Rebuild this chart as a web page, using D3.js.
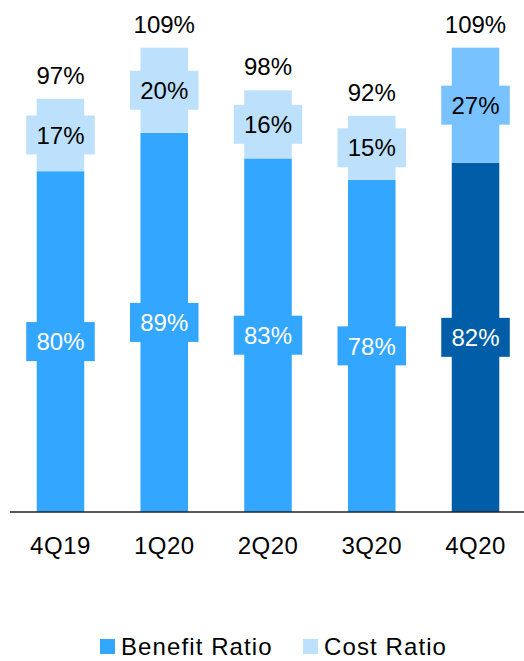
<!DOCTYPE html>
<html>
<head>
<meta charset="utf-8">
<script src="https://cdn.jsdelivr.net/npm/d3@7/dist/d3.min.js"></script>
<style>
  html, body { margin: 0; padding: 0; background: #fff; }
  svg { display: block; font-family: "Liberation Sans", Arial, sans-serif; }
</style>
</head>
<body>
<svg id="chart" width="524" height="661"></svg>
<script>
// Quarterly ratios (%)
const categories = ["4Q19", "1Q20", "2Q20", "3Q20", "4Q20"];
const benefitRatio = [80, 89, 83, 78, 82];
const costRatio = [17, 20, 16, 15, 27];
const totalLabels = [97, 109, 98, 92, 109];
const seriesNames = ["Benefit Ratio", "Cost Ratio"];

// Colours: regular quarters and the highlighted latest quarter
const colors = {
  benefit: "#33a6ff",
  cost: "#bde0fc",
  benefitHi: "#005ea8",
  costHi: "#78c3ff"
};

const svg = d3.select("#chart");
const baseY = 512;

const x = d3.scaleBand()
  .domain(categories)
  .range([8.6, 527.4])
  .paddingInner(0.542)
  .paddingOuter(0.271);

const y = d3.scaleLinear()
  .domain([0, 100])
  .range([baseY, baseY - 426]);

const rows = categories.map((c, i) => ({
  cat: c,
  benefit: benefitRatio[i],
  cost: costRatio[i],
  total: totalLabels[i],
  hi: i === categories.length - 1
}));

const bw = x.bandwidth();
const boxPad = 10.5;
const boxH = 39;

const g = svg.append("g");

rows.forEach(d => {
  const x0 = x(d.cat);
  const cx = x0 + bw / 2;
  const segs = [
    { v0: 0, v1: d.benefit, fill: d.hi ? colors.benefitHi : colors.benefit, text: "#fff" },
    { v0: d.benefit, v1: d.benefit + d.cost, fill: d.hi ? colors.costHi : colors.cost, text: "#000" }
  ];
  segs.forEach(s => {
    g.append("rect")
      .attr("x", x0).attr("width", bw)
      .attr("y", y(s.v1)).attr("height", y(s.v0) - y(s.v1))
      .attr("fill", s.fill);
  });
  segs.forEach(s => {
    const cy = (y(s.v0) + y(s.v1)) / 2;
    g.append("rect")
      .attr("x", x0 - boxPad).attr("width", bw + 2 * boxPad)
      .attr("y", cy - boxH / 2).attr("height", boxH)
      .attr("fill", s.fill);
    g.append("text")
      .attr("x", cx).attr("y", cy).attr("dy", "0.36em")
      .attr("text-anchor", "middle")
      .attr("font-size", 24)
      .attr("fill", s.text)
      .text((s.v1 - s.v0) + "%");
  });
  g.append("text")
    .attr("x", cx).attr("y", y(d.benefit + d.cost) - 15)
    .attr("text-anchor", "middle")
    .attr("font-size", 24)
    .attr("fill", "#000")
    .text(d.total + "%");
});

// Baseline axis with category labels
const axis = svg.append("g").attr("transform", `translate(0,${baseY})`)
  .call(d3.axisBottom(x).tickSize(0).tickPadding(25));
axis.select(".domain").attr("d", "M10,0H524").attr("stroke", "#222").attr("stroke-width", 1.6);
axis.selectAll(".tick text")
  .attr("font-size", 24)
  .attr("letter-spacing", 0.5)
  .attr("font-family", "'Liberation Sans', Arial, sans-serif")
  .attr("fill", "#000");

// Legend
const legend = svg.append("g").attr("transform", "translate(100,639)");
const legendX = [0, 203];
seriesNames.forEach((name, i) => {
  const lg = legend.append("g").attr("transform", `translate(${legendX[i]},0)`);
  lg.append("rect").attr("width", 15).attr("height", 15)
    .attr("fill", i === 0 ? colors.benefit : colors.cost);
  lg.append("text").attr("x", 21).attr("y", 15.5)
    .attr("font-size", 24).attr("letter-spacing", 1.1).attr("fill", "#000")
    .text(name);
});
</script>
</body>
</html>
